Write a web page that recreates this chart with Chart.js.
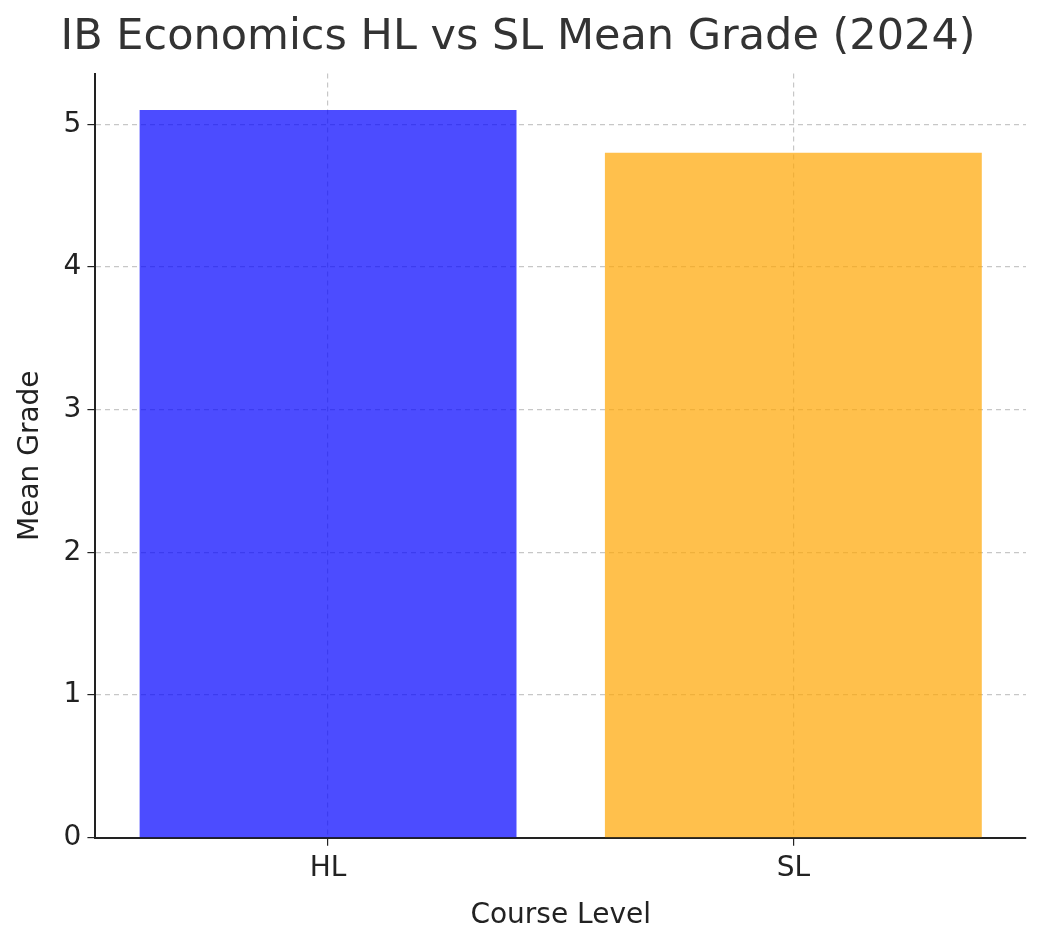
<!DOCTYPE html>
<html>
<head>
<meta charset="utf-8">
<script src="https://cdn.jsdelivr.net/npm/chart.js@4/dist/chart.umd.min.js"></script>
<style>
	html, body { margin: 0; padding: 0; background: #fff; }
	#wrap { width: 1053px; height: 947px; }
</style>
</head>
<body>
<div id="wrap"><canvas id="chart"></canvas></div>
<script>
const categories = ['HL', 'SL'];
const meanGrades = [5.1, 4.8];
const barColors = ['rgba(0,0,255,0.7)', 'rgba(255,165,0,0.7)'];

const font = 'DejaVu Sans';
const gridDash = { color: 'rgba(0,0,0,0.22)', lineWidth: 1.2, tickColor: '#222', tickLength: 8 };

new Chart(document.getElementById('chart'), {
	type: 'bar',
	data: {
		labels: categories,
		datasets: [{
			label: 'Mean Grade',
			data: meanGrades,
			backgroundColor: barColors,
			borderWidth: 0,
			barPercentage: 0.81,
			categoryPercentage: 1
		}]
	},
	options: {
		responsive: true,
		maintainAspectRatio: false,
		animation: false,
		layout: { padding: { left: 10, right: 27, top: 0, bottom: 10 } },
		plugins: {
			legend: { display: false },
			tooltip: { enabled: false },
			title: {
				display: true,
				text: 'IB Economics HL vs SL Mean Grade (2024)',
				color: '#333',
				font: { family: font, size: 43, weight: 'normal' },
				padding: { top: 12, bottom: 10 }
			}
		},
		scales: {
			x: {
				grid: { ...gridDash, offset: false },
				border: { color: '#222', width: 2, dash: [5, 4] },
				ticks: { color: '#222', font: { family: font, size: 28 }, padding: 6 },
				title: { display: true, text: 'Course Level', color: '#222', font: { family: font, size: 28 }, padding: { top: 8 } }
			},
			y: {
				min: 0,
				max: 5.355,
				grid: { ...gridDash },
				border: { color: '#222', width: 2, dash: [5, 4] },
				ticks: { stepSize: 1, color: '#222', font: { family: font, size: 28 }, padding: 6 },
				afterBuildTicks: axis => { axis.ticks = axis.ticks.filter(t => Number.isInteger(t.value)); },
				title: { display: true, text: 'Mean Grade', color: '#222', font: { family: font, size: 28 }, padding: { bottom: 10 } }
			}
		}
	}
});
</script>
</body>
</html>
